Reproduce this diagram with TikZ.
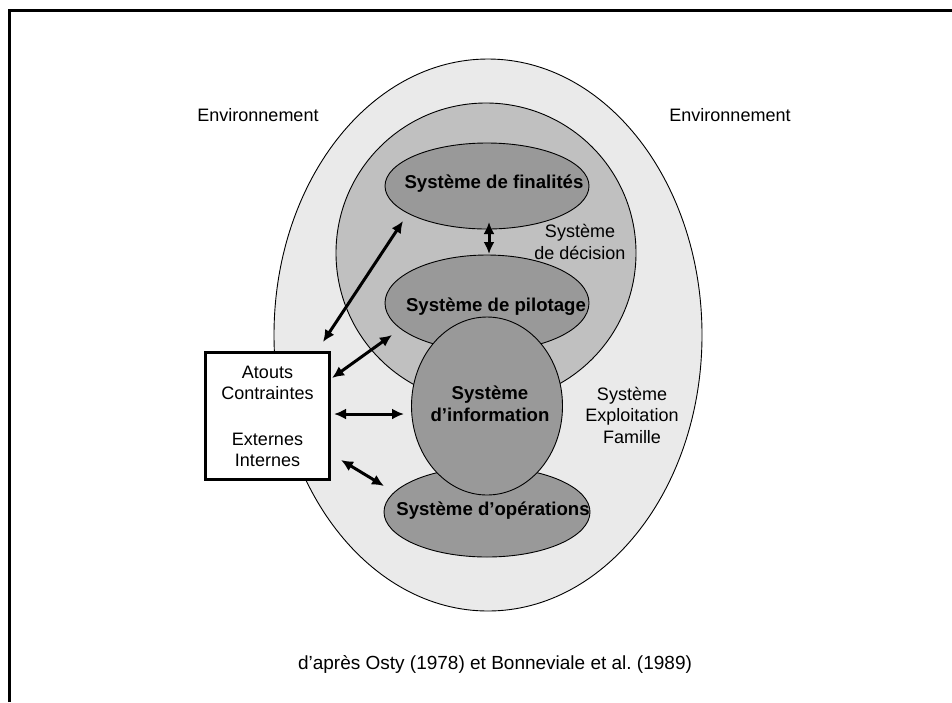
\documentclass[tikz,border=0pt]{standalone}
\usepackage{fontspec}
\setmainfont{Liberation Sans}
\usetikzlibrary{shapes.geometric,arrows.meta}
\definecolor{envgray}{HTML}{EAEAEA}
\definecolor{decgray}{HTML}{C0C0C0}
\definecolor{sysgray}{HTML}{999999}
\tikzset{
  zone/.style={draw=black, line width=0.9pt, inner sep=0pt},
  outerzone/.style={zone, ellipse, fill=envgray},
  deczone/.style={zone, circle, fill=decgray},
  subsys/.style={zone, ellipse, fill=sysgray},
  lbl/.style={font=\fontsize{18}{21.5}\selectfont, align=center, inner sep=0pt},
  blbl/.style={lbl, font=\fontsize{18.6}{22}\selectfont\bfseries},
  dbl/.style={line width=3pt, {Latex[length=12pt,width=11pt]}-{Latex[length=12pt,width=11pt]}},
  facbox/.style={draw=black, line width=3.2pt, fill=white, minimum width=124pt, minimum height=127pt, inner sep=0pt}
}
\begin{document}
\frenchspacing
\begin{tikzpicture}[x=1pt,y=-1pt]
\useasboundingbox (0,0) rectangle (952,702);
% frame
\draw[line width=3pt] (9.5,702) -- (9.5,10.7) -- (952,10.7);
% zones
\node[outerzone, minimum width=428pt, minimum height=552pt] (famille) at (488,335) {};
\node[deczone, minimum size=300pt] (decision) at (486,253) {};
\node[subsys, minimum width=204pt, minimum height=86pt] (finalites) at (487,186) {};
\node[subsys, minimum width=204pt, minimum height=96pt] (pilotage) at (487,303) {};
\node[subsys, minimum width=206pt, minimum height=90pt] (operations) at (487,512) {};
\node[subsys, minimum width=151pt, minimum height=178pt] (information) at (487,406) {};
% texts
\node[blbl] (tfin) at (494,184) {Système de finalités};
\node[blbl] (tpil) at (496,307) {Système de pilotage};
\node[blbl] (tinf) at (490,404) {Système\\d’information};
\node[blbl] (tope) at (493,511) {Système d’opérations};
\node[lbl] (tdec) at (580,242) {Système\\de décision};
\node[lbl] (tfam) at (632,415) {Système\\Exploitation\\Famille};
\node[lbl] (envl) at (258,115) {Environnement};
\node[lbl] (envr) at (730,115) {Environnement};
\node[lbl, font=\fontsize{19}{22}\selectfont] (caption) at (495,664) {d’après Osty (1978) et Bonneviale et al. (1989)};
% factors box
\node[facbox] (facteurs) at (267.5,416) {};
\node[lbl] (tfac1) at (267.5,383) {Atouts\\Contraintes};
\node[lbl] (tfac2) at (267.5,450) {Externes\\Internes};
% arrow end points
\coordinate (a1s) at (323,342);
\coordinate (a1e) at (403,221);
\coordinate (a2s) at (332,378);
\coordinate (a2e) at (392,335);
\coordinate (a3s) at (334,414);
\coordinate (a3e) at (404,414);
\coordinate (a4s) at (341,460);
\coordinate (a4e) at (384,486);
\coordinate (a5s) at (489,222);
\coordinate (a5e) at (489,254);
\draw[dbl] (a1s) -- (a1e);
\draw[dbl] (a2s) -- (a2e);
\draw[dbl] (a3s) -- (a3e);
\draw[dbl] (a4s) -- (a4e);
\draw[dbl] (a5s) -- (a5e);
\end{tikzpicture}
\end{document}
